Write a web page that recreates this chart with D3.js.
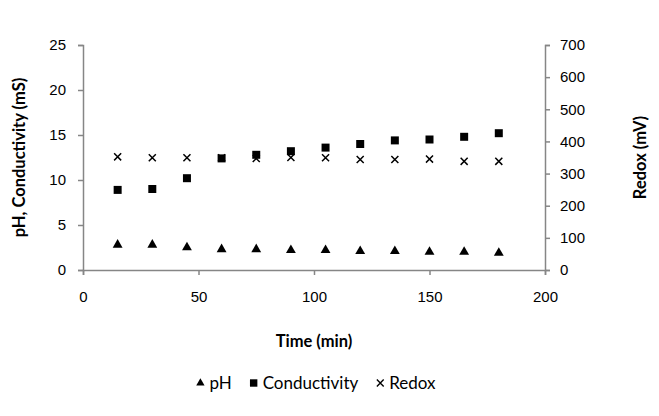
<!DOCTYPE html>
<html>
<head>
<meta charset="utf-8">
<script src="https://cdn.jsdelivr.net/npm/d3@7"></script>
<style>
  html, body { margin: 0; padding: 0; background: #fff; }
  svg { display: block; font-family: Lato, "Open Sans", sans-serif; }
</style>
</head>
<body>
<svg id="chart" width="659" height="416"></svg>
<script>
// Sampling times (min)
const time = [15, 30, 45, 60, 75, 90, 105, 120, 135, 150, 165, 180];
// Left axis series
const ph = [2.8, 2.8, 2.5, 2.3, 2.3, 2.2, 2.2, 2.1, 2.1, 2.0, 2.0, 1.9];
const conductivity = [8.9, 9.0, 10.2, 12.4, 12.8, 13.2, 13.6, 14.0, 14.4, 14.5, 14.8, 15.2];
// Right axis series (mV)
const redox = [352, 349, 349, 349, 347, 350, 349, 344, 344, 345, 338, 338];

const xTicks = [0, 50, 100, 150, 200];
const yLeftTicks = [0, 5, 10, 15, 20, 25];
const yRightTicks = [0, 100, 200, 300, 400, 500, 600, 700];

const svg = d3.select("#chart");
const L = 83, R = 545, T = 45, B = 270;
const axisColor = "#868686";
const tickFs = "15px", titleFs = "16.5px", legendFs = "17px";

const x = d3.scaleLinear().domain([0, 200]).range([L, R]);
const yL = d3.scaleLinear().domain([0, 25]).range([B, T]);
const yR = d3.scaleLinear().domain([0, 700]).range([B, T]);

function styleAxis(g) {
  g.selectAll("path, line").attr("stroke", axisColor).attr("stroke-width", 1.5);
  g.selectAll("text").attr("fill", "#000").style("font-size", tickFs);
}

svg.append("g").attr("transform", `translate(0,${B})`)
  .call(d3.axisBottom(x).tickValues(xTicks).tickSizeOuter(0).tickSize(5).tickPadding(16))
  .call(styleAxis);

svg.append("g").attr("transform", `translate(${L},0)`)
  .call(d3.axisLeft(yL).tickValues(yLeftTicks).tickSizeOuter(0).tickSize(5).tickPadding(12))
  .call(styleAxis);

svg.append("g").attr("transform", `translate(${R},0)`)
  .call(d3.axisRight(yR).tickValues(yRightTicks).tickSizeOuter(0).tickSize(5).tickPadding(10))
  .call(styleAxis);

// Markers
const tri = d3.symbol().type(d3.symbolTriangle).size(42);
const sq = d3.symbol().type(d3.symbolSquare).size(64);
const cross = d3.symbol().type(d3.symbolX).size(34);

svg.append("g").selectAll("path").data(time).join("path")
  .attr("transform", (t, i) => `translate(${x(t)},${yL(ph[i])})`)
  .attr("d", tri).attr("fill", "#000");

svg.append("g").selectAll("path").data(time).join("path")
  .attr("transform", (t, i) => `translate(${x(t)},${yL(conductivity[i])})`)
  .attr("d", sq).attr("fill", "#000");

svg.append("g").selectAll("path").data(time).join("path")
  .attr("transform", (t, i) => `translate(${x(t)},${yR(redox[i])})`)
  .attr("d", cross).attr("fill", "none").attr("stroke", "#000").attr("stroke-width", 1.5);

// Axis titles
svg.append("text").attr("x", (L + R) / 2).attr("y", 347)
  .attr("text-anchor", "middle").attr("font-weight", "bold").style("font-size", titleFs)
  .text("Time (min)");

svg.append("text").attr("transform", `translate(25,${(T + B) / 2}) rotate(-90)`)
  .attr("text-anchor", "middle").attr("font-weight", "bold").style("font-size", titleFs)
  .text("pH, Conductivity (mS)");

svg.append("text").attr("transform", `translate(646,${(T + B) / 2}) rotate(-90)`)
  .attr("text-anchor", "middle").attr("font-weight", "bold").style("font-size", titleFs)
  .text("Redox (mV)");

// Legend
const legendItems = [
  { label: "pH", sym: d3.symbol().type(d3.symbolTriangle).size(30), stroke: false },
  { label: "Conductivity", sym: d3.symbol().type(d3.symbolSquare).size(55), stroke: false },
  { label: "Redox", sym: d3.symbol().type(d3.symbolX).size(32), stroke: true }
];
const gap = 22;
const lg = svg.append("g");
let cx = 0;
legendItems.forEach(item => {
  const g = lg.append("g").attr("transform", `translate(${cx},0)`);
  g.append("path").attr("d", item.sym).attr("transform", "translate(0,-6)")
    .attr("fill", item.stroke ? "none" : "#000")
    .attr("stroke", item.stroke ? "#000" : "none").attr("stroke-width", 1.4);
  const t = g.append("text").attr("x", 9).attr("y", 0).style("font-size", legendFs).text(item.label);
  cx += 9 + t.node().getComputedTextLength() + gap;
});
const lgW = cx - gap;
lg.attr("transform", `translate(${(L + R - lgW) / 2 + 4},389)`);
</script>
</body>
</html>
